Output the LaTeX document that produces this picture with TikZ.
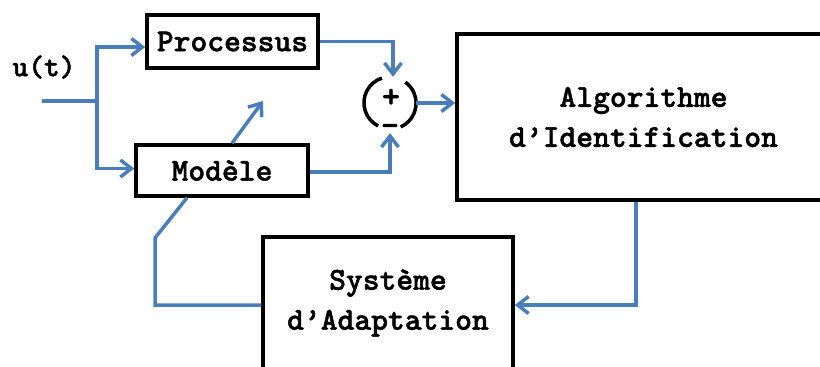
\documentclass[tikz,border=0pt]{standalone}
\usepackage{fontspec}
\newfontfamily\courbold{lmmonolt10-bold.otf}[FakeBold=1.5]
\usetikzlibrary{arrows.meta,calc}
\definecolor{lineblue}{RGB}{74,126,187}
\tikzset{
  box/.style={draw=black, line width=3.5pt, fill=white, inner sep=0pt, align=center,
    font=\fontsize{32}{40}\selectfont\courbold},
  lbl/.style={inner sep=0pt, font=\fontsize{30}{30}\selectfont\courbold},
  sign/.style={inner sep=0pt, font=\fontsize{34}{34}\selectfont\courbold},
  conn/.style={draw=lineblue, line width=3.5pt},
  arr/.style={conn, -{Straight Barb[length=11pt,width=17pt,line width=3.5pt]}},
  ring/.style={draw=black, line width=3.5pt}
}
\begin{document}
\begin{tikzpicture}[x=1pt,y=-1pt]
\useasboundingbox (0,0) rectangle (820,367);
\clip (0,0) rectangle (820,367);
\fill[white] (0,0) rectangle (820,367);
% boxes
\node[box, minimum width=171pt, minimum height=53pt] (proc) at (232.5,41.5) {Processus};
\node[box, minimum width=172pt, minimum height=51pt] (mod) at (222,170.5) {Modèle};
\node[box, minimum width=373pt, minimum height=166pt] (algo) at (643.5,117) {Algorithme\\d’Identification};
\node[box, minimum width=250pt, minimum height=132pt] (sys) at (388,303) {Système\\d’Adaptation};
% summing junction
\node[circle, minimum size=52pt, inner sep=0pt] (sum) at (390,103) {};
\draw[ring] (sum.108) arc[start angle=108, end angle=243, radius=26pt];
\draw[ring] (sum.-66) arc[start angle=-66, end angle=54, radius=26pt];
\node[sign] (plus) at (391,98) {+};
\node[sign] (minus) at (390,130) {-};
% input
\node[lbl] (u) at (44,67) {u(t)};
\coordinate (in) at (42,101);
\coordinate (split) at (97,101);
\draw[conn] (in) -- (split);
\draw[arr] (split) |- ([yshift=-5.5pt]proc.west);
\draw[arr] (split) |- ([yshift=2pt]mod.west);
% to summing junction
\draw[arr] (proc.east) -| ([xshift=3pt]sum.north);
\draw[arr, shorten >=4pt] ([yshift=-1.5pt]mod.east) -| (sum.south);
\draw[arr] (sum.east) -- (sum.east -| algo.west);
% diagonal adjustable arrow
\coordinate (tip) at (263,101);
\draw[arr] ([xshift=10pt]mod.north) -- (tip);
% feedback
\draw[arr] ([xshift=-7.5pt]algo.south) |- ([yshift=-2pt]sys.east);
\coordinate (fb1) at (155,238);
\draw[conn, line join=miter] ([yshift=-2pt]sys.west) -| (fb1) -- ([xshift=-35pt]mod.south);
\end{tikzpicture}
\end{document}
